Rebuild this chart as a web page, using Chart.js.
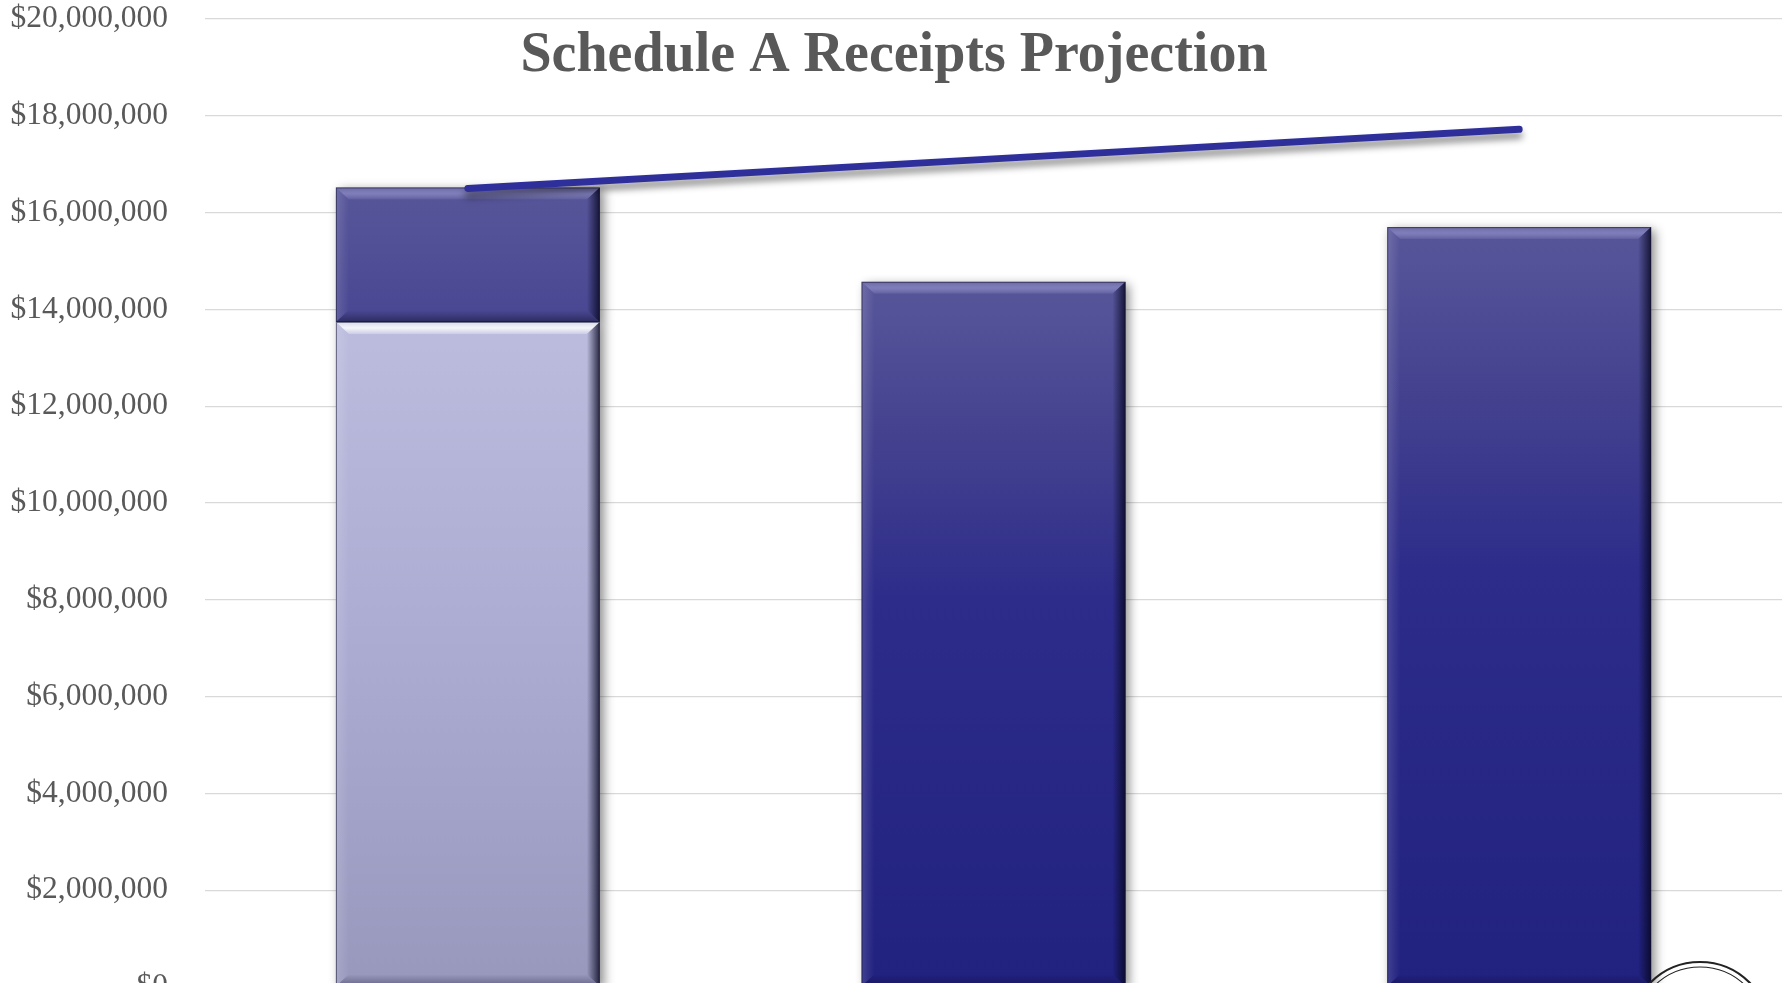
<!DOCTYPE html>
<html>
<head>
<meta charset="utf-8">
<title>Schedule A Receipts Projection</title>
<script src="https://cdn.jsdelivr.net/npm/chart.js@4.4.1/dist/chart.umd.min.js"></script>
<style>
  html, body { margin: 0; padding: 0; background: #fff; overflow: hidden; }
  #frame { width: 1789px; height: 983px; overflow: hidden; position: relative; }
  canvas { display: block; }
</style>
</head>
<body>
<div id="frame"><canvas id="receiptsChart" width="1789" height="1080"></canvas></div>
<script>
const categories = ['2019', '2020', '2021'];
const receivedToDate = [13740000, 0, 0];
const projectedReceipts = [2780000, 14570000, 15700000];
const trendLine = [16500000, 17110000, 17720000];
const yTickValues = [0, 2000000, 4000000, 6000000, 8000000, 10000000, 12000000, 14000000, 16000000, 18000000, 20000000];

const serif = "'Liberation Serif', 'Times New Roman', serif";
const canvasHeight = 1080;
// the y tick padding also pads the plot vertically, so the canvas starts above the page top
const pageShift = 40;
// where the plot box should sit on the page
const plotBox = { left: 205, top: 19, right: 1782, bottom: 987 };

function stackTop(i) {
    return receivedToDate[i] + projectedReceipts[i];
}

function verticalFill(context, topValue, stops) {
    const chart = context.chart;
    if (!chart.chartArea) return stops[0][1];
    const y = chart.scales.y;
    const g = chart.ctx.createLinearGradient(0, y.getPixelForValue(topValue), 0, y.getPixelForValue(0));
    stops.forEach(s => g.addColorStop(s[0], s[1]));
    return g;
}

// drop shadows plus the bevelled edges on the columns
const bevelPlugin = {
    id: 'bevel',
    beforeDatasetDraw(chart, args) {
        const ctx = chart.ctx;
        ctx.save();
        if (args.meta.type === 'bar') {
            ctx.shadowColor = 'rgba(0, 0, 0, 0.45)';
            ctx.shadowBlur = 10;
            ctx.shadowOffsetX = 4;
            ctx.shadowOffsetY = 3;
        } else {
            ctx.shadowColor = 'rgba(0, 0, 0, 0.45)';
            ctx.shadowBlur = 7;
            ctx.shadowOffsetX = 0;
            ctx.shadowOffsetY = 6;
        }
    },
    afterDatasetDraw(chart, args) {
        const ctx = chart.ctx;
        ctx.restore();
        if (args.meta.type !== 'bar') return;
        const light = args.index === 0;
        args.meta.data.forEach(bar => {
            const p = bar.getProps(['x', 'y', 'base', 'width'], true);
            const t = Math.min(p.y, p.base), b = Math.max(p.y, p.base);
            if (b - t < 2) return;
            const l = p.x - p.width / 2, r = p.x + p.width / 2;
            const bx = 13, by = 12;
            ctx.save();

            // top bevel
            let g = ctx.createLinearGradient(0, t, 0, t + by);
            if (light) {
                g.addColorStop(0, 'rgba(255,255,255,0.45)');
                g.addColorStop(0.5, 'rgba(255,255,255,0.85)');
                g.addColorStop(1, 'rgba(255,255,255,0.25)');
            } else {
                g.addColorStop(0, 'rgba(255,255,255,0.10)');
                g.addColorStop(0.5, 'rgba(200,200,255,0.35)');
                g.addColorStop(1, 'rgba(255,255,255,0.05)');
            }
            ctx.fillStyle = g;
            ctx.beginPath();
            ctx.moveTo(l, t); ctx.lineTo(r, t); ctx.lineTo(r - bx, t + by); ctx.lineTo(l + bx, t + by);
            ctx.closePath(); ctx.fill();

            // left bevel
            g = ctx.createLinearGradient(l, 0, l + bx, 0);
            g.addColorStop(0, 'rgba(255,255,255,0.14)');
            g.addColorStop(1, 'rgba(255,255,255,0)');
            ctx.fillStyle = g;
            ctx.beginPath();
            ctx.moveTo(l, t); ctx.lineTo(l + bx, t + by); ctx.lineTo(l + bx, b - by); ctx.lineTo(l, b);
            ctx.closePath(); ctx.fill();

            // right bevel
            g = ctx.createLinearGradient(r - bx, 0, r, 0);
            g.addColorStop(0, 'rgba(5,5,30,0)');
            g.addColorStop(1, 'rgba(5,5,30,0.8)');
            ctx.fillStyle = g;
            ctx.beginPath();
            ctx.moveTo(r, t); ctx.lineTo(r, b); ctx.lineTo(r - bx, b - by); ctx.lineTo(r - bx, t + by);
            ctx.closePath(); ctx.fill();

            // bottom bevel
            g = ctx.createLinearGradient(0, b - by, 0, b);
            g.addColorStop(0, 'rgba(5,5,30,0)');
            g.addColorStop(1, 'rgba(5,5,30,0.35)');
            ctx.fillStyle = g;
            ctx.beginPath();
            ctx.moveTo(l, b); ctx.lineTo(l + bx, b - by); ctx.lineTo(r - bx, b - by); ctx.lineTo(r, b);
            ctx.closePath(); ctx.fill();

            ctx.strokeStyle = 'rgba(20, 20, 50, 0.55)';
            ctx.lineWidth = 1;
            ctx.strokeRect(l + 0.5, t + 0.5, r - l - 1, b - t - 1);
            ctx.restore();
        });
    }
};

// title sits inside the plot area, over the top gridlines
const titlePlugin = {
    id: 'insideTitle',
    afterDraw(chart) {
        const ctx = chart.ctx;
        ctx.save();
        ctx.font = 'bold 56px ' + serif;
        ctx.fillStyle = '#595959';
        ctx.textAlign = 'center';
        ctx.textBaseline = 'alphabetic';
        ctx.fillText('Schedule A Receipts Projection', 894, 71 + pageShift);
        ctx.restore();
    }
};

// corner of the seal in the bottom right
const sealPlugin = {
    id: 'seal',
    afterDraw(chart) {
        const ctx = chart.ctx;
        const cy = 1032 + pageShift;
        ctx.save();
        ctx.strokeStyle = '#222';
        ctx.lineWidth = 2.2;
        ctx.beginPath();
        ctx.arc(1700, cy, 70, Math.PI, 2 * Math.PI);
        ctx.stroke();
        ctx.lineWidth = 1.2;
        ctx.beginPath();
        ctx.arc(1700, cy, 65, Math.PI, 2 * Math.PI);
        ctx.stroke();
        ctx.restore();
    }
};

function initializeChart() {
    const canvas = document.getElementById('receiptsChart');
    canvas.style.marginTop = -pageShift + 'px';
    const chart = new Chart(canvas.getContext('2d'), {
        type: 'bar',
        data: {
            labels: categories,
            datasets: [{
                type: 'bar',
                label: 'Received',
                data: receivedToDate,
                stack: 'receipts',
                order: 1,
                backgroundColor: c => verticalFill(c, receivedToDate[c.dataIndex], [
                    [0, '#BCBCDE'], [0.5, '#ABABD2'], [1, '#9898BD']
                ]),
                borderWidth: 0,
                categoryPercentage: 1,
                barPercentage: 0.502
            }, {
                type: 'bar',
                label: 'Projected',
                data: projectedReceipts,
                stack: 'receipts',
                order: 1,
                backgroundColor: c => verticalFill(c, stackTop(c.dataIndex), [
                    [0, '#58569A'], [0.22, '#44428F'], [0.45, '#2D2C8A'], [1, '#212180']
                ]),
                borderWidth: 0,
                categoryPercentage: 1,
                barPercentage: 0.502
            }, {
                type: 'line',
                label: 'Trend',
                data: trendLine,
                order: 0,
                borderColor: '#2F2F9B',
                borderWidth: 7,
                borderCapStyle: 'round',
                pointRadius: 0,
                tension: 0
            }]
        },
        options: {
            responsive: false,
            devicePixelRatio: 1,
            animation: false,
            layout: {
                padding: {
                    top: plotBox.top + pageShift,
                    left: 10,
                    right: 7,
                    bottom: canvasHeight - (plotBox.bottom + pageShift)
                }
            },
            plugins: {
                legend: { display: false },
                title: { display: false },
                tooltip: { enabled: false }
            },
            scales: {
                x: {
                    stacked: true,
                    grid: { display: false, drawTicks: false },
                    border: { display: false },
                    ticks: { display: false }
                },
                y: {
                    stacked: true,
                    min: 0,
                    max: 20000000,
                    afterBuildTicks: axis => {
                        axis.ticks = yTickValues.map(v => ({ value: v }));
                    },
                    grid: { color: '#D9D9D9', lineWidth: 1.3, drawTicks: false },
                    border: { display: false },
                    ticks: {
                        padding: 37,
                        color: '#595959',
                        font: { family: serif, size: 31.5, lineHeight: 1 },
                        callback: v => '$' + Number(v).toLocaleString('en-US')
                    }
                }
            }
        },
        plugins: [bevelPlugin, titlePlugin, sealPlugin]
    });

    // nudge the side padding so the plot box lands where it should
    const a = chart.chartArea;
    const pad = chart.options.layout.padding;
    pad.left += plotBox.left - a.left;
    pad.right += a.right - plotBox.right;
    chart.update();
}

if (document.readyState === 'loading') {
    document.addEventListener('DOMContentLoaded', initializeChart);
} else {
    initializeChart();
}
</script>
</body>
</html>
